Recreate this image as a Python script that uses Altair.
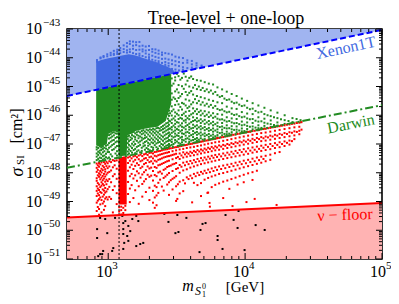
import altair as alt
import pandas as pd

W, H = 315, 230
SERIF = "Liberation Serif"

# ---------------- axes ----------------
X_DOMAIN = [500, 1e5]
Y_DOMAIN = [1e-51, 1e-43]
X_MAJOR = [1e3, 1e4, 1e5]
X_EXP = ["3", "4", "5"]
Y_MAJOR = [1e-43, 1e-44, 1e-45, 1e-46, 1e-47, 1e-48, 1e-49, 1e-50, 1e-51]
Y_EXP = ["\u221243", "\u221244", "\u221245", "\u221246", "\u221247", "\u221248", "\u221249", "\u221250", "\u221251"]
MANTISSAS = [2, 3, 4, 5, 6, 7, 8, 9]
X_DECADES = [1e2, 1e3, 1e4]
Y_DECADES = [1e-51, 1e-50, 1e-49, 1e-48, 1e-47, 1e-46, 1e-45, 1e-44]

# ---------------- limit lines (m [GeV], sigma [cm^2]) ----------------
XENON_M = [500, 1e5]
XENON_S = [4.7e-46, 9.3e-44]
DARWIN_M = [500, 1e5]
DARWIN_S = [1.48e-48, 2.24e-46]
FLOOR_M = [500, 1e5]
FLOOR_S = [2.8e-50, 8.9e-50]
VLINE_M = [1200]

# ---------------- saturated cores of the scatter clouds (log10 values) ----------------
BLUE_CORE_LOGM = [2.912, 2.95, 3.0, 3.05, 3.10, 3.15, 3.20, 3.25, 3.30, 3.35, 3.40, 3.45, 3.48]
BLUE_CORE_TOP = [-44.15, -44.08, -44.02, -43.97, -43.92, -43.88, -43.92, -44.0, -44.08, -44.15, -44.25, -44.35, -44.45]
BLUE_CORE_BOT = [-45.12, -45.08, -45.03, -44.98, -44.93, -44.88, -44.83, -44.78, -44.73, -44.68, -44.63, -44.58, -44.55]

GREEN_CORE_LOGM = [2.912, 2.95, 2.99, 3.0, 3.04, 3.07, 3.075, 3.10, 3.135, 3.14, 3.20, 3.28, 3.36, 3.42, 3.46]
GREEN_CORE_TOP = [-45.12, -45.08, -45.04, -45.03, -44.99, -44.96, -44.95, -44.93, -44.89, -44.89, -44.83, -44.75, -44.67, -44.61, -44.57]
GREEN_CORE_BOT = [-47.05, -47.1, -47.0, -46.65, -46.55, -46.6, -47.45, -47.42, -47.4, -46.7, -46.55, -46.45, -46.4, -46.2, -45.6]

RED_CORE_LOGM = [3.075, 3.135]
RED_CORE_TOP = [-47.47, -47.42]
RED_CORE_BOT = [-49.1, -49.1]

# ---------------- scattered points: (log10 m, [log10 sigma ...]) ----------------
BLUE_PTS = [
    (2.918, [-44.08, -44.14]), (2.944, [-44.02, -43.99]),
    (2.966, [-43.94, -43.98]), (2.993, [-43.88, -43.95]),
    (3.018, [-43.83, -43.91]), (3.041, [-43.76, -43.86, -43.9]),
    (3.066, [-43.72, -43.8, -43.87]), (3.088, [-43.66, -43.75, -43.84]),
    (3.113, [-43.57, -43.7, -43.8]), (3.137, [-43.49, -43.61, -43.74, -43.82]),
    (3.158, [-43.43, -43.52, -43.71, -43.8]),
    (3.181, [-43.44, -43.58, -43.69, -43.84]),
    (3.204, [-43.46, -43.56, -43.73, -43.87]),
    (3.228, [-43.45, -43.6, -43.72, -43.86, -43.93]),
    (3.251, [-43.58, -43.71, -43.78, -43.94]),
    (3.274, [-43.61, -43.75, -43.85, -43.98]),
    (3.298, [-43.59, -43.73, -43.89, -43.98, -44.05]),
    (3.322, [-43.7, -43.79, -43.93, -44.07]),
    (3.345, [-43.71, -43.83, -43.97, -44.1]),
    (3.368, [-43.75, -43.86, -44.0, -44.12, -44.18]),
    (3.393, [-43.82, -43.9, -44.04, -44.18]),
    (3.417, [-43.84, -44.03, -44.15, -44.24, -44.3]),
    (3.441, [-43.86, -44.06, -44.19, -44.28]),
    (3.466, [-43.89, -44.09, -44.22, -44.39]),
    (3.491, [-43.96, -44.12, -44.26, -44.41, -44.5]),
    (3.517, [-43.99, -44.15, -44.29, -44.44]),
    (3.546, [-44.01, -44.18, -44.33, -44.42]),
    (3.578, [-44.09, -44.17, -44.36]),
    (3.611, [-44.11, -44.23, -44.34]),
    (3.645, [-44.19, -44.27, -44.36]),
    (3.682, [-44.27, -44.31]),
]

GREEN_PTS = [
    (2.916, [-47.11, -47.19, -47.33, -47.44, -47.56]), (2.927, [-47.14, -47.27, -47.38, -47.52]),
    (2.938, [-47.08, -47.23, -47.31, -47.47, -47.59]), (2.949, [-47.12, -47.21, -47.36, -47.49]),
    (2.961, [-47.09, -47.17, -47.29, -47.42, -47.55]), (2.972, [-47.13, -47.25, -47.4, -47.51]),
    (2.984, [-47.06, -47.16, -47.34, -47.46]), (2.996, [-47.03, -47.2, -47.28, -47.5]),
    (3.006, [-46.69, -46.81, -46.97, -47.13, -47.28, -47.47]), (3.018, [-46.66, -46.78, -46.92, -47.09, -47.36]),
    (3.029, [-46.61, -46.74, -46.88, -47.04, -47.21, -47.43]), (3.041, [-46.59, -46.7, -46.86, -47.0, -47.18]),
    (3.053, [-46.63, -46.79, -46.94, -47.12, -47.33]), (3.064, [-46.64, -46.76, -46.91, -47.07, -47.25, -47.4]),
    (3.143, [-46.74, -46.83, -46.97, -47.12, -47.26, -47.37]), (3.152, [-46.71, -46.9, -47.03, -47.19, -47.33]),
    (3.163, [-46.62, -46.77, -46.86, -47.08, -47.24]), (3.174, [-46.6, -46.69, -46.81, -46.99, -47.14, -47.3]),
    (3.186, [-46.58, -46.73, -46.92, -47.05, -47.21]), (3.197, [-46.63, -46.76, -46.84, -47.0, -47.17, -47.32]),
    (3.209, [-46.59, -46.68, -46.89, -47.1, -47.26]), (3.221, [-46.56, -46.71, -46.8, -46.95, -47.07, -47.22]),
    (3.233, [-46.6, -46.74, -46.91, -47.03, -47.29]), (3.245, [-46.55, -46.66, -46.78, -46.87, -47.13, -47.24]),
    (3.257, [-46.52, -46.63, -46.82, -46.98, -47.08]), (3.268, [-46.57, -46.7, -46.79, -46.93, -47.05, -47.2]),
    (3.28, [-46.5, -46.61, -46.76, -46.9, -47.14]), (3.292, [-46.53, -46.67, -46.83, -46.96, -47.06, -47.18]),
    (3.304, [-46.49, -46.59, -46.73, -46.86, -47.01, -47.22]), (3.316, [-46.51, -46.64, -46.8, -46.94, -47.1]),
    (3.328, [-46.47, -46.57, -46.7, -46.85, -46.97, -47.13, -47.2]), (3.34, [-46.5, -46.62, -46.77, -46.91, -47.04]),
    (3.352, [-46.45, -46.56, -46.68, -46.82, -46.98, -47.11]), (3.364, [-46.44, -46.6, -46.74, -46.87, -46.95, -47.16]),
    (3.376, [-46.46, -46.54, -46.66, -46.79, -46.93, -47.07]), (3.388, [-46.41, -46.52, -46.71, -46.84, -47.0, -47.12]),
    (3.4, [-46.37, -46.48, -46.6, -46.75, -46.89, -47.03]), (3.412, [-46.33, -46.45, -46.57, -46.7, -46.83, -46.97, -47.1]),
    (3.424, [-46.28, -46.4, -46.53, -46.66, -46.8, -46.92, -47.06]),
    (3.436, [-45.95, -46.12, -46.26, -46.38, -46.5, -46.63, -46.78, -46.9, -47.04]),
    (3.444, [-45.72, -45.84, -46.02, -46.19, -46.33, -46.47, -46.6, -46.72, -46.86, -47.0, -47.1]),
    (3.452, [-44.61, -45.12, -45.58, -45.93, -46.21, -46.46, -46.67, -46.88, -47.06]),
    (3.464, [-44.72, -44.97, -45.24, -45.46, -45.69, -45.86, -46.01, -46.15, -46.27, -46.41, -46.5, -46.61, -46.73, -46.84, -46.93, -47.03]),
    (3.477, [-44.9, -45.38, -45.8, -46.11, -46.36, -46.57, -46.77, -47.0]),
    (3.489, [-44.68, -44.79, -45.17, -45.43, -45.64, -45.9, -46.04, -46.18, -46.3, -46.42, -46.53, -46.64, -46.74, -46.86, -46.95]),
    (3.502, [-44.56, -45.1, -45.51, -45.95, -46.24, -46.48, -46.7, -46.91]),
    (3.514, [-44.64, -44.95, -45.21, -45.4, -45.62, -45.83, -46.0, -46.13, -46.26, -46.39, -46.51, -46.62, -46.72, -46.83, -46.96]),
    (3.527, [-44.76, -45.34, -45.71, -46.09, -46.35, -46.56, -46.78, -46.99]),
    (3.539, [-44.7, -44.99, -45.26, -45.57, -45.8, -45.99, -46.12, -46.28, -46.4, -46.52, -46.63, -46.75, -46.85, -46.94]),
    (3.552, [-44.55, -45.08, -45.6, -45.94, -46.19, -46.43, -46.65, -46.87]),
    (3.566, [-44.66, -44.93, -45.19, -45.45, -45.66, -45.88, -46.03, -46.16, -46.25, -46.38, -46.49, -46.6, -46.71, -46.82, -46.92]),
    (3.579, [-44.8, -45.3, -45.75, -46.1, -46.34, -46.58, -46.8]),
    (3.592, [-44.7, -45.0, -45.22, -45.49, -45.7, -45.85, -46.02, -46.14, -46.29, -46.41, -46.5, -46.62, -46.73, -46.84, -46.93]),
    (3.606, [-44.65, -45.16, -45.62, -45.97, -46.24, -46.46, -46.69, -46.88]),
    (3.62, [-44.74, -45.04, -45.28, -45.55, -45.76, -45.93, -46.07, -46.2, -46.33, -46.44, -46.55, -46.66, -46.76, -46.86]),
    (3.634, [-44.95, -45.44, -45.86, -46.17, -46.39, -46.61, -46.83]),
    (3.648, [-44.78, -45.09, -45.33, -45.58, -45.79, -45.96, -46.1, -46.22, -46.35, -46.47, -46.58, -46.68, -46.79, -46.88]),
    (3.662, [-45.0, -45.5, -45.89, -46.19, -46.42, -46.64, -46.85]),
    (3.676, [-44.8, -45.12, -45.37, -45.63, -45.84, -46.0, -46.14, -46.27, -46.38, -46.49, -46.6, -46.71, -46.8]),
    (3.69, [-45.05, -45.55, -45.94, -46.21, -46.45, -46.67, -46.85]),
    (3.705, [-44.85, -45.16, -45.41, -45.66, -45.86, -46.03, -46.16, -46.3, -46.41, -46.52, -46.63, -46.73, -46.83]),
    (3.72, [-45.1, -45.6, -45.98, -46.25, -46.48, -46.69]),
    (3.735, [-44.9, -45.2, -45.46, -45.7, -45.9, -46.06, -46.2, -46.32, -46.44, -46.54, -46.65, -46.75, -46.84]),
    (3.75, [-45.14, -45.64, -46.01, -46.28, -46.51, -46.71]),
    (3.766, [-44.93, -45.25, -45.5, -45.74, -45.93, -46.09, -46.23, -46.35, -46.46, -46.57, -46.67, -46.77]),
    (3.782, [-45.19, -45.68, -46.05, -46.31, -46.53, -46.73]),
    (3.798, [-45.03, -45.3, -45.55, -45.78, -45.96, -46.12, -46.26, -46.38, -46.49, -46.59, -46.69, -46.77]),
    (3.815, [-45.36, -45.82, -46.15, -46.41, -46.62]),
    (3.832, [-45.1, -45.33, -45.58, -45.8, -45.98, -46.14, -46.27, -46.39, -46.5, -46.6, -46.7]),
    (3.849, [-45.42, -45.86, -46.18, -46.44, -46.65]),
    (3.866, [-45.18, -45.47, -45.7, -45.9, -46.07, -46.22, -46.35, -46.46, -46.57, -46.66]),
    (3.884, [-45.45, -45.88, -46.2, -46.45, -46.64]),
    (3.902, [-45.26, -45.53, -45.76, -45.95, -46.11, -46.25, -46.38, -46.49, -46.59, -46.67]),
    (3.92, [-45.58, -45.99, -46.28, -46.51]),
    (3.938, [-45.33, -45.56, -45.78, -45.97, -46.13, -46.27, -46.39, -46.5, -46.59]),
    (3.957, [-45.63, -46.03, -46.31, -46.53]),
    (3.976, [-45.42, -45.68, -45.89, -46.07, -46.22, -46.35, -46.46, -46.56]),
    (3.995, [-45.66, -46.05, -46.33, -46.55]),
    (4.015, [-45.5, -45.74, -45.94, -46.11, -46.25, -46.37, -46.48, -46.57]),
    (4.035, [-45.79, -46.14, -46.4, -46.57]),
    (4.055, [-45.58, -45.77, -45.96, -46.13, -46.27, -46.39, -46.49]),
    (4.076, [-45.85, -46.19, -46.43]),
    (4.097, [-45.66, -45.9, -46.07, -46.22, -46.35, -46.45, -46.52]),
    (4.119, [-45.88, -46.21, -46.44]),
    (4.141, [-45.74, -45.96, -46.12, -46.26, -46.37, -46.46]),
    (4.164, [-46.0, -46.29]),
    (4.187, [-45.83, -46.03, -46.18, -46.31, -46.41]),
    (4.211, [-46.07, -46.34]),
    (4.236, [-45.91, -46.1, -46.25, -46.36]),
    (4.262, [-46.14, -46.35]),
    (4.289, [-46.0, -46.17, -46.3]),
    (4.317, [-46.2]),
    (4.346, [-46.1, -46.24]),
    (4.376, [-46.13, -46.25]),
    (4.405, [-46.17, -46.24]),
]

RED_PTS = [
    (2.916, [-47.68, -47.83, -47.97, -48.19, -48.28, -48.47, -48.63, -48.81, -49.04, -49.33]),
    (2.924, [-47.74, -47.9, -48.09, -48.36, -48.55, -48.72, -48.97, -49.19]),
    (2.933, [-47.66, -47.79, -48.02, -48.14, -48.41, -48.6, -48.78, -48.92, -49.26, -49.46]),
    (2.942, [-47.71, -47.94, -48.07, -48.23, -48.5, -48.67, -48.86, -49.1]),
    (2.951, [-47.64, -47.86, -47.99, -48.17, -48.33, -48.45, -48.7, -48.95, -49.38]),
    (2.96, [-47.76, -47.91, -48.11, -48.26, -48.39, -48.58, -48.83, -49.07]),
    (2.969, [-47.63, -47.81, -48.04, -48.2, -48.44, -48.62, -48.76, -49.0, -49.29]),
    (2.978, [-47.69, -47.88, -47.96, -48.13, -48.31, -48.53, -48.69, -48.9, -49.16]),
    (2.987, [-47.62, -47.77, -48.06, -48.24, -48.4, -48.65, -48.85]),
    (2.996, [-47.67, -47.84, -48.0, -48.29, -48.57, -48.93]),
    (3.008, [-47.6, -47.78, -47.97, -48.22, -48.49, -48.84]),
    (3.021, [-47.63, -47.92, -48.33, -48.91]),
    (3.034, [-47.56, -47.81, -48.12, -48.6, -49.38]),
    (3.047, [-47.59, -47.74, -48.05, -48.47]),
    (3.062, [-47.57, -47.86, -48.21, -48.71, -49.09]),
    (3.08, [-49.2, -49.35]), (3.095, [-49.18, -49.3, -49.45]), (3.11, [-49.22, -49.4]), (3.125, [-49.15, -49.3]),
    (3.145, [-47.47, -47.66, -47.93, -48.32, -48.74]),
    (3.158, [-47.44, -47.58, -47.81, -48.12, -48.55, -49.02]),
    (3.171, [-47.5, -47.72, -48.04, -48.43]),
    (3.184, [-47.43, -47.61, -47.87, -48.2, -48.88]),
    (3.197, [-47.41, -47.55, -47.76, -48.09, -48.61]),
    (3.21, [-47.46, -47.67, -47.95, -48.28]),
    (3.223, [-47.4, -47.53, -47.73, -48.02, -48.47, -49.08]),
    (3.236, [-47.37, -47.6, -47.84, -48.17]),
    (3.249, [-47.42, -47.57, -47.79, -48.06, -48.39, -48.83]),
    (3.262, [-47.36, -47.51, -47.7, -47.98, -48.3]),
    (3.275, [-47.34, -47.49, -47.66, -47.91, -48.22, -48.67]),
    (3.288, [-47.38, -47.56, -47.78, -48.07]),
    (3.301, [-47.31, -47.46, -47.63, -47.85, -48.14, -48.52, -48.95]),
    (3.314, [-47.3, -47.44, -47.6, -47.82, -48.1]),
    (3.327, [-47.33, -47.5, -47.68, -47.94, -48.27, -48.63, -49.04]),
    (3.34, [-47.28, -47.41, -47.58, -47.8, -48.08, -48.45, -48.86, -49.22]),
    (3.353, [-47.27, -47.43, -47.61, -47.83, -48.12, -48.5, -48.79, -49.13]),
    (3.366, [-47.25, -47.39, -47.55, -47.74, -47.99, -48.35, -48.7]),
    (3.379, [-47.24, -47.37, -47.53, -47.72, -47.96, -48.24]),
    (3.392, [-47.22, -47.35, -47.5, -47.69, -48.03, -48.48]),
    (3.405, [-47.2, -47.33, -47.47, -47.66, -47.9, -48.18, -48.62]),
    (3.418, [-47.19, -47.31, -47.45, -47.63, -47.86, -48.13]),
    (3.431, [-47.18, -47.3, -47.43, -47.6, -47.8, -48.07, -48.41]),
    (3.444, [-47.16, -47.28, -47.42, -47.58, -47.77, -48.01, -48.33, -48.77]),
    (3.457, [-47.15, -47.4, -47.75, -48.26]),
    (3.47, [-47.14, -47.25, -47.38, -47.53, -47.71, -47.94, -48.21, -48.58]),
    (3.483, [-47.12, -47.36, -47.69, -48.17]),
    (3.496, [-47.11, -47.22, -47.34, -47.49, -47.66, -47.87, -48.12, -48.47, -48.98]),
    (3.509, [-47.1, -47.45, -47.84, -48.4]),
    (3.522, [-47.08, -47.19, -47.33, -47.52, -47.73, -48.0, -48.31, -48.72]),
    (3.535, [-47.07, -47.4, -47.79]),
    (3.548, [-47.05, -47.17, -47.29, -47.47, -47.65, -47.92, -48.26, -48.64]),
    (3.561, [-47.04, -47.36, -47.74, -48.37]),
    (3.574, [-47.03, -47.14, -47.3, -47.44, -47.62, -47.88, -48.16]),
    (3.587, [-47.01, -47.34, -47.7, -48.22]),
    (3.6, [-47.0, -47.12, -47.27, -47.41, -47.59, -47.82, -48.1]),
    (3.613, [-46.99, -47.31, -47.67, -48.19, -49.03]),
    (3.626, [-46.97, -47.1, -47.24, -47.39, -47.56, -47.78, -48.04, -48.35]),
    (3.639, [-46.96, -47.28, -47.63, -48.12]),
    (3.652, [-46.95, -47.07, -47.21, -47.36, -47.52, -47.74, -48.0, -48.43]),
    (3.665, [-46.93, -47.26, -47.6, -48.08]),
    (3.678, [-46.92, -47.05, -47.19, -47.33, -47.49, -47.7, -47.97, -48.36, -48.81]),
    (3.691, [-46.91, -47.23, -47.57, -48.03]),
    (3.704, [-46.89, -47.02, -47.16, -47.3, -47.47, -47.67, -47.93, -48.24]),
    (3.717, [-46.88, -47.2, -47.54, -48.01]),
    (3.73, [-46.87, -46.99, -47.13, -47.28, -47.44, -47.64, -47.89, -48.18, -48.69]),
    (3.743, [-46.85, -47.17, -47.51, -47.98, -49.18]),
    (3.756, [-46.84, -46.97, -47.1, -47.25, -47.41, -47.61, -47.85, -48.13, -48.5]),
    (3.769, [-46.83, -47.15, -47.48, -47.94]),
    (3.782, [-46.82, -46.94, -47.08, -47.22, -47.38, -47.58, -47.81, -48.09, -48.42]),
    (3.795, [-46.8, -47.12, -47.45, -47.9]),
    (3.81, [-46.79, -46.92, -47.05, -47.2, -47.36, -47.55, -47.78, -48.04, -48.37]),
    (3.825, [-46.77, -47.09, -47.43, -47.87]),
    (3.84, [-46.76, -46.89, -47.03, -47.17, -47.33, -47.52, -47.75, -48.01, -48.31, -48.88]),
    (3.855, [-46.74, -47.06, -47.4, -47.84]),
    (3.87, [-46.73, -46.86, -47.0, -47.14, -47.3, -47.49, -47.72, -47.97, -48.27]),
    (3.885, [-46.71, -47.03, -47.37, -47.8, -48.56]),
    (3.9, [-46.7, -46.83, -46.97, -47.11, -47.27, -47.46, -47.69, -47.93, -48.22]),
    (3.915, [-46.68, -47.0, -47.34, -47.77]),
    (3.93, [-46.67, -46.8, -46.94, -47.08, -47.24, -47.43, -47.65, -47.89, -48.17]),
    (3.945, [-46.65, -46.97, -47.31, -47.74, -48.41]),
    (3.96, [-46.64, -46.77, -46.91, -47.05, -47.21, -47.4, -47.62, -47.85, -48.12]),
    (3.975, [-46.62, -46.94, -47.28, -47.7]),
    (3.99, [-46.61, -46.74, -46.88, -47.02, -47.18, -47.37, -47.58, -47.81, -48.07, -48.33]),
    (4.006, [-46.6, -46.92, -47.26, -47.67]),
    (4.022, [-46.58, -46.71, -46.85, -46.99, -47.15, -47.34, -47.55, -47.77, -48.02]),
    (4.038, [-46.57, -46.89, -47.23, -47.63]),
    (4.054, [-46.55, -46.68, -46.82, -46.96, -47.12, -47.3, -47.51, -47.73, -47.98, -48.25]),
    (4.07, [-46.54, -46.86, -47.2, -47.6]),
    (4.086, [-46.52, -46.65, -46.79, -46.93, -47.09, -47.27, -47.47, -47.69, -47.93]),
    (4.102, [-46.51, -46.83, -47.17, -47.56]),
    (4.118, [-46.49, -46.62, -46.76, -46.9, -47.06, -47.24, -47.44, -47.65]),
    (4.134, [-46.48, -46.8, -47.13, -47.52]),
    (4.15, [-46.47, -46.6, -46.74, -46.88, -47.03, -47.21, -47.41, -47.6]),
    (4.167, [-46.45, -46.77, -47.1]),
    (4.184, [-46.44, -46.57, -46.71, -46.85, -47.0, -47.18, -47.37, -47.55]),
    (4.201, [-46.42, -46.74, -47.07]),
    (4.218, [-46.41, -46.54, -46.68, -46.82, -46.97, -47.14, -47.32]),
    (4.235, [-46.39, -46.71, -47.03]),
    (4.252, [-46.38, -46.51, -46.65, -46.79, -46.94, -47.11, -47.28]),
    (4.27, [-46.36, -46.68, -47.0]),
    (4.288, [-46.35, -46.48, -46.62, -46.76, -46.91, -47.07]),
    (4.306, [-46.33, -46.65, -46.96]),
    (4.324, [-46.32, -46.45, -46.59, -46.73, -46.88, -47.02]),
    (4.342, [-46.3, -46.61, -46.9]),
    (4.36, [-46.29, -46.42, -46.56, -46.7, -46.83]),
    (4.378, [-46.27, -46.58]),
    (4.396, [-46.26, -46.4, -46.54, -46.66]),
    (4.412, [-46.24, -46.5]),
]
RED_EXTRA = [(3.505, -48.91), (3.74, -49.05), (4.07, -48.91), (4.23, -49.12),
             (4.01, -49.02), (3.908, -49.16), (3.725, -48.7)]

BLACK_PTS = [
    (2.941, -49.57), (2.919, -49.96), (2.993, -50.10), (3.103, -49.50), (3.110, -49.75),
    (3.110, -49.96), (3.110, -50.13), (3.125, -49.68), (3.147, -49.85), (3.161, -50.03),
    (3.176, -49.61), (3.205, -49.50), (3.220, -49.68), (3.234, -50.48), (3.205, -50.55),
    (3.147, -50.37), (3.110, -50.65), (3.037, -50.62), (2.963, -50.72), (2.941, -50.83),
    (2.927, -50.90), (2.919, -50.27), (2.978, -49.61), (3.029, -50.72), (3.410, -49.43),
    (3.440, -49.71), (3.505, -49.47), (3.571, -49.57), (3.491, -50.10), (3.513, -50.06),
    (3.689, -49.78), (3.711, -49.75), (3.674, -49.99), (3.857, -49.47), (3.952, -49.33),
    (3.916, -49.64), (3.945, -49.92), (4.077, -49.82), (4.143, -49.99), (3.799, -50.20),
    (3.799, -50.34), (3.835, -50.65), (3.667, -50.76), (3.996, -50.69), (3.05, -49.57),
    (3.139, -50.20), (3.256, -50.44), (3.117, -50.44), (2.956, -50.83),
]

# ---------------- annotations ----------------
ANNOT_TEXT = ["Xenon1T", "Darwin", "\u03bd \u2212 floor"]
ANNOT_M = [54500, 59300, 53600]
ANNOT_S = [2.2e-44, 5.0e-47, 3.4e-50]
TITLE = "Tree-level + one-loop"

# ---------------- build frames ----------------
def col_points(cols, extra=()):
    rows = [(10 ** lm, 10 ** ls) for lm, ys in cols for ls in ys]
    rows += [(10 ** lm, 10 ** ls) for lm, ls in extra]
    return pd.DataFrame(rows, columns=["m", "s"])


def core(logm, top, bot):
    return pd.DataFrame({"m": [10 ** v for v in logm],
                         "top": [10 ** v for v in top],
                         "bot": [10 ** v for v in bot]})


xs = alt.Scale(type="log", domain=X_DOMAIN, nice=False)
ys = alt.Scale(type="log", domain=Y_DOMAIN, nice=False)


def X(f):
    return alt.X(f, type="quantitative", scale=xs, axis=None)


def Y(f):
    return alt.Y(f, type="quantitative", scale=ys, axis=None)


layers = []

# shaded regions
xen_df = pd.DataFrame({"m": XENON_M, "s": XENON_S, "top": [Y_DOMAIN[1]] * 2})
layers.append(alt.Chart(xen_df).mark_area(color="#a0b4f0", clip=True).encode(
    x=X("m"), y=Y("s"), y2="top"))
floor_df = pd.DataFrame({"m": FLOOR_M, "s": FLOOR_S, "bot": [Y_DOMAIN[0]] * 2})
layers.append(alt.Chart(floor_df).mark_area(color="#ffb3b3", clip=True).encode(
    x=X("m"), y=Y("s"), y2="bot"))

BLUE, GREEN, RED = "#4169e1", "#228b22", "#ff0000"

for logm, top, bot, c in [(BLUE_CORE_LOGM, BLUE_CORE_TOP, BLUE_CORE_BOT, BLUE),
                          (GREEN_CORE_LOGM, GREEN_CORE_TOP, GREEN_CORE_BOT, GREEN),
                          (RED_CORE_LOGM, RED_CORE_TOP, RED_CORE_BOT, RED)]:
    layers.append(alt.Chart(core(logm, top, bot)).mark_area(color=c, clip=True).encode(
        x=X("m"), y=Y("top"), y2="bot"))

for df, c in [(col_points(BLUE_PTS), BLUE), (col_points(GREEN_PTS), GREEN),
              (col_points(RED_PTS, RED_EXTRA), RED),
              (col_points([], BLACK_PTS), "#000000")]:
    layers.append(alt.Chart(df).mark_square(size=4, color=c, opacity=1, clip=True).encode(
        x=X("m"), y=Y("s")))

# vertical dotted line
layers.append(alt.Chart(pd.DataFrame({"m": VLINE_M})).mark_rule(
    color="black", strokeWidth=1, strokeDash=[2, 2]).encode(x=X("m")))

# limit lines
layers.append(alt.Chart(pd.DataFrame({"m": XENON_M, "s": XENON_S})).mark_line(
    color="#0000ff", strokeWidth=2, strokeDash=[6, 3], clip=True).encode(x=X("m"), y=Y("s")))
layers.append(alt.Chart(pd.DataFrame({"m": DARWIN_M, "s": DARWIN_S})).mark_line(
    color=GREEN, strokeWidth=2, strokeDash=[8, 3, 2, 3], clip=True).encode(x=X("m"), y=Y("s")))
layers.append(alt.Chart(pd.DataFrame({"m": FLOOR_M, "s": FLOOR_S})).mark_line(
    color=RED, strokeWidth=2, clip=True).encode(x=X("m"), y=Y("s")))

# ticks (inward, all four sides)
x_minor = [k * d for d in X_DECADES for k in MANTISSAS if X_DOMAIN[0] < k * d < X_DOMAIN[1]]
y_minor = [k * d for d in Y_DECADES for k in MANTISSAS]
xmaj = pd.DataFrame({"v": X_MAJOR, "e": X_EXP})
ymaj = pd.DataFrame({"v": Y_MAJOR, "e": Y_EXP})
xmin_df = pd.DataFrame({"v": x_minor})
ymin_df = pd.DataFrame({"v": y_minor})
for df, ln in [(xmaj, 6), (xmin_df, 3)]:
    layers.append(alt.Chart(df).mark_rule(color="black", strokeWidth=1).encode(
        x=X("v"), y=alt.value(H), y2=alt.value(H - ln)))
    layers.append(alt.Chart(df).mark_rule(color="black", strokeWidth=1).encode(
        x=X("v"), y=alt.value(0), y2=alt.value(ln)))
for df, ln in [(ymaj, 6), (ymin_df, 3)]:
    layers.append(alt.Chart(df).mark_rule(color="black", strokeWidth=1).encode(
        y=Y("v"), x=alt.value(0), x2=alt.value(ln)))
    layers.append(alt.Chart(df).mark_rule(color="black", strokeWidth=1).encode(
        y=Y("v"), x=alt.value(W), x2=alt.value(W - ln)))

# tick labels 10^k
layers.append(alt.Chart(ymaj).mark_text(font=SERIF, fontSize=16, align="right", baseline="middle").encode(
    y=Y("v"), x=alt.value(-25), text=alt.value("10")))
layers.append(alt.Chart(ymaj).mark_text(font=SERIF, fontSize=11, align="left", baseline="middle", dy=-6).encode(
    y=Y("v"), x=alt.value(-24), text="e:N"))
layers.append(alt.Chart(xmaj).mark_text(font=SERIF, fontSize=16, align="right", baseline="middle", dx=4).encode(
    x=X("v"), y=alt.value(H + 13), text=alt.value("10")))
layers.append(alt.Chart(xmaj).mark_text(font=SERIF, fontSize=11, align="left", baseline="middle", dx=4).encode(
    x=X("v"), y=alt.value(H + 7), text="e:N"))

# annotations
for txt, m, s, c, ang in zip(ANNOT_TEXT, ANNOT_M, ANNOT_S, [BLUE, GREEN, RED], [348, 349, 358]):
    layers.append(alt.Chart(pd.DataFrame({"m": [m], "s": [s], "t": [txt]})).mark_text(
        font=SERIF, fontSize=16, color=c, angle=ang, align="center", baseline="middle").encode(
        x=X("m"), y=Y("s"), text="t:N"))


# title and axis titles built from pieces
def label(txt, x, y, size, style="normal", angle=0, baseline="alphabetic"):
    return alt.Chart(pd.DataFrame({"t": [txt]})).mark_text(
        font=SERIF, fontSize=size, fontStyle=style, angle=angle, align="center",
        baseline=baseline, color="black").encode(
        x=alt.value(x), y=alt.value(y), text="t:N")


layers += [
    label(TITLE, 159, -5, 18),
    label("m", 121, 262, 16, "italic"),
    label("S", 131, 266, 12, "italic"),
    label("0", 137, 260, 8),
    label("1", 137, 268, 8),
    label("[GeV]", 178, 263, 15),
    label("\u03c3", -49, 143, 18, "italic", 270, "middle"),
    label("SI", -46, 131, 11, "normal", 270, "middle"),
    label("[cm\u00b2]", -50, 97, 16, "normal", 270, "middle"),
]

chart = alt.layer(*layers).properties(
    width=W, height=H,
    autosize=alt.AutoSizeParams(type="none"),
    padding={"left": 59, "top": 21, "right": 9, "bottom": 43},
).configure_view(stroke="black", strokeWidth=1.6)

chart.save("out.html", embed_options={"renderer": "svg", "actions": False})
